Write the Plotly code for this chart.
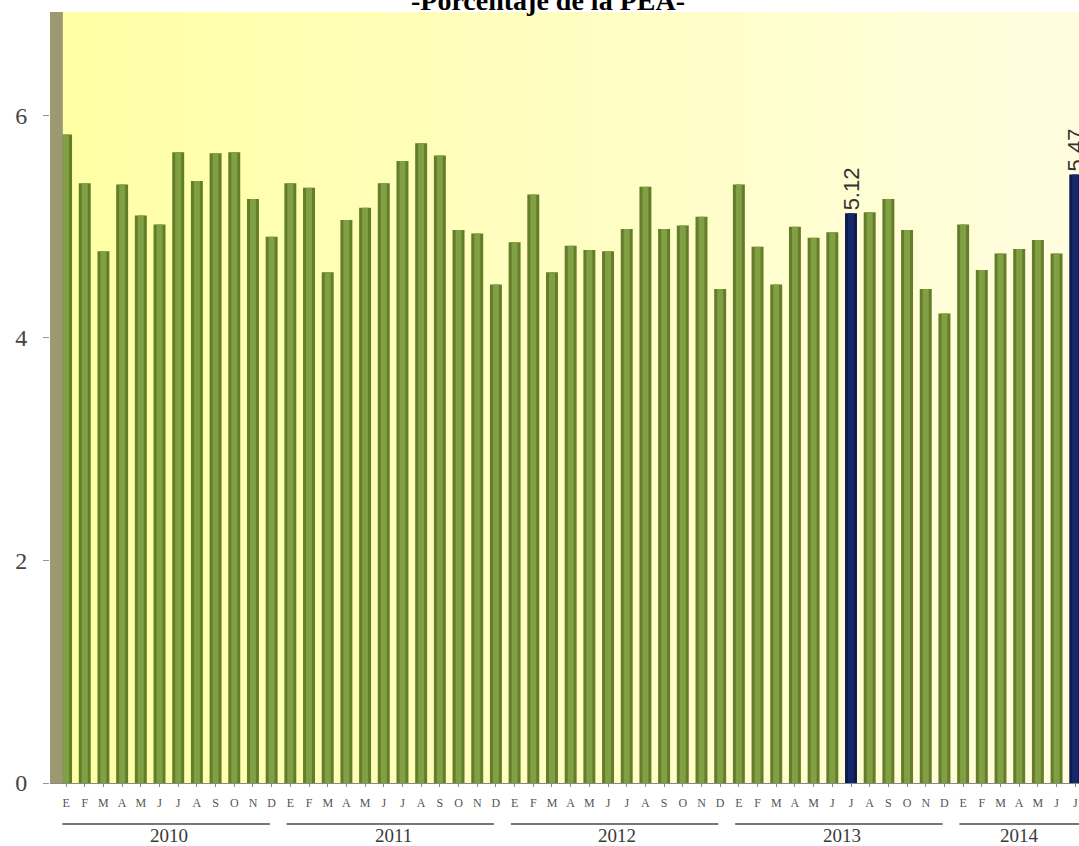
import plotly.graph_objects as go

months = ["E", "F", "M", "A", "M", "J", "J", "A", "S", "O", "N", "D"]
years = ["2010", "2011", "2012", "2013", "2014"]
values = [
    5.83, 5.39, 4.78, 5.38, 5.10, 5.02, 5.67, 5.41, 5.66, 5.67, 5.25, 4.91,   # 2010
    5.39, 5.35, 4.59, 5.06, 5.17, 5.39, 5.59, 5.75, 5.64, 4.97, 4.94, 4.48,   # 2011
    4.86, 5.29, 4.59, 4.83, 4.79, 4.78, 4.98, 5.36, 4.98, 5.01, 5.09, 4.44,   # 2012
    5.38, 4.82, 4.48, 5.00, 4.90, 4.95, 5.12, 5.13, 5.25, 4.97, 4.44, 4.22,   # 2013
    5.02, 4.61, 4.76, 4.80, 4.88, 4.76, 5.47,                                 # 2014
]
highlight = [42, 54]  # Jul-2013, Jul-2014

n = len(values)
idx = list(range(n))
ticktext = [months[i % 12] for i in idx]

green_dark = "#637D2A"
green_light = "#80A043"
navy_dark = "#0B1A52"
navy_light = "#15286A"
outer = [navy_dark if i in highlight else green_dark for i in idx]
inner = [navy_light if i in highlight else green_light for i in idx]
texts = [f"{values[i]:.2f}" if i in highlight else "" for i in idx]

fig = go.Figure()
fig.add_trace(go.Bar(
    x=idx, y=values, width=0.64,
    marker=dict(color=outer, line=dict(width=0)),
    text=texts, textposition="outside", textangle=-90,
    constraintext="none",
    textfont=dict(family="Liberation Sans, Arial", size=22, color="#333333"),
    cliponaxis=False,
    showlegend=False, hoverinfo="skip",
))
fig.add_trace(go.Bar(
    x=idx, y=values, width=0.32,
    marker=dict(color=inner, line=dict(width=0)),
    showlegend=False,
))

# background gradient (left: saturated yellow -> right: pale cream)
def lerp(a, b, t):
    return int(round(a + (b - a) * t))

c0 = (255, 255, 165)
c1 = (255, 253, 222)
nb = 40
shapes = []
for k in range(nb):
    t = k / (nb - 1)
    col = "rgb(%d,%d,%d)" % tuple(lerp(c0[j], c1[j], t) for j in range(3))
    shapes.append(dict(type="rect", xref="paper", yref="paper",
                       x0=k / nb, x1=(k + 1) / nb + 0.002, y0=0, y1=1,
                       fillcolor=col, line=dict(width=0), layer="below"))
# left wall
shapes.append(dict(type="rect", xref="paper", yref="paper",
                   x0=0, x1=0.0125, y0=0, y1=1,
                   fillcolor="#9C9872", line=dict(width=0), layer="above"))

# year underlines and labels
annotations = []
for yi, yr in enumerate(years):
    first = yi * 12
    last = min(first + 11, n - 1)
    x1 = first + 10.9 if first + 11 <= n - 1 else last + 5
    shapes.append(dict(type="line", xref="x", yref="paper",
                       x0=first - 0.2, x1=x1, y0=-0.0532, y1=-0.0532,
                       line=dict(color="#777777", width=2)))
    annotations.append(dict(x=(first + last) / 2, y=-0.0685, xref="x", yref="paper",
                            text=yr, showarrow=False, xanchor="center", yanchor="middle",
                            font=dict(family="Liberation Serif, Times New Roman", size=19,
                                      color="#3A3A3A")))

annotations.append(dict(x=0.484, y=1.0143, xref="paper", yref="paper",
                        text="<b>-Porcentaje de la PEA-</b>", showarrow=False,
                        xanchor="center", yanchor="middle",
                        font=dict(family="Liberation Serif, Times New Roman", size=28,
                                  color="#000000")))

fig.update_layout(
    width=1079, height=846,
    margin=dict(l=50, r=0, t=12, b=63),
    paper_bgcolor="white",
    plot_bgcolor="#FFFFC8",
    barmode="overlay",
    shapes=shapes,
    annotations=annotations,
    xaxis=dict(
        range=[-0.86, 54.2],
        tickmode="array", tickvals=idx, ticktext=ticktext,
        tickfont=dict(family="Liberation Serif, Times New Roman", size=12, color="#555555"),
        showgrid=False, zeroline=False,
        showline=True, linecolor="#888888", linewidth=1,
        ticks="outside", ticklen=3, tickcolor="#888888",
        ticklabelstandoff=6,
    ),
    yaxis=dict(
        range=[0, 6.93],
        tickvals=[0, 2, 4, 6],
        tickfont=dict(family="Liberation Serif, Times New Roman", size=24, color="#444444"),
        showgrid=False, zeroline=False,
        showline=False,
        ticks="outside", ticklen=6, tickcolor="#999999",
        ticklabelstandoff=11,
    ),
)

fig.write_html("out.html", config={"displayModeBar": False},
               post_script="document.body.style.margin='0';")
